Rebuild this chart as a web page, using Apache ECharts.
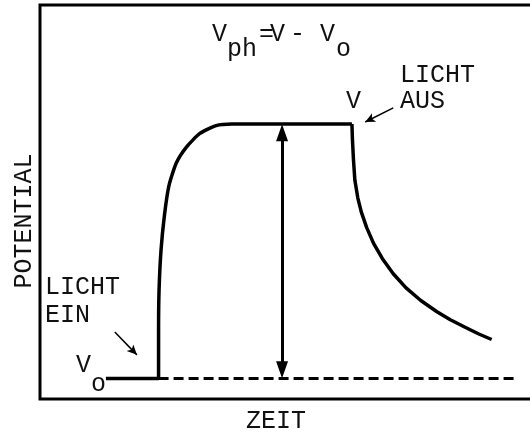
<!DOCTYPE html>
<html>
<head>
<meta charset="utf-8">
<script src="https://cdn.jsdelivr.net/npm/echarts@6/dist/echarts.min.js"></script>
<style>
  html, body { margin: 0; padding: 0; background: #fff; }
  #chart { width: 530px; height: 432px; }
</style>
</head>
<body>
<div id="chart"></div>
<script>
// Zeit (0..100) / Potential (0..100)
const riseCurve = [
  [13.4, 5.2], [24.1, 5.2], [24.1, 17.5], [24.2, 27.7], [24.6, 37.8], [25.3, 46.7],
  [26.2, 54.1], [27.7, 59.9], [29.8, 64.0], [32.5, 67.4], [35.8, 69.4], [39.0, 69.8],
  [63.4, 69.8]
];
const decayCurve = [
  [63.4, 69.8], [63.5, 66.0], [63.7, 61.0], [64.0, 55.5], [64.6, 51.0], [65.3, 47.5],
  [66.4, 43.5], [67.8, 39.5], [69.6, 35.6], [71.8, 31.8], [74.4, 28.2], [77.4, 25.0],
  [80.6, 22.2], [83.4, 20.1], [86.4, 18.2], [89.2, 16.5], [91.8, 15.1]
];
const darkLine = [[24.1, 5.2], [97.0, 5.2]];       // gestrichelte Linie V0
const vphArrow = [[49.2, 7.4], [49.2, 67.6]];       // Doppelpfeil Vph
const einArrow = [[15.2, 17.0], [19.7, 11.2]];      // LICHT EIN
const ausArrow = [[71.8, 73.9], [66.1, 70.3]];      // LICHT AUS

const FONT = '25px "Liberation Mono", "DejaVu Sans Mono", monospace';

function txt(text, x, y, extra) {
  return Object.assign({
    type: 'text', x: x, y: y,
    style: { text: text, font: FONT, fill: '#111', textAlign: 'left', textVerticalAlign: 'middle', align: 'left', verticalAlign: 'middle' }
  }, extra || {});
}

let chart = echarts.init(document.getElementById('chart'));
let option = {
  animation: false,
  grid: { left: 40, right: -2, top: 5, bottom: 33, outerBoundsMode: 'none', show: true, borderColor: '#000', borderWidth: 3, backgroundColor: 'transparent' },
  xAxis: { type: 'value', min: 0, max: 100, show: false },
  yAxis: { type: 'value', min: 0, max: 100, show: false },
  series: [
    {
      type: 'line', data: riseCurve, showSymbol: false, smooth: 0.2,
      lineStyle: { color: '#000', width: 3.5 }
    },
    {
      type: 'line', data: decayCurve, showSymbol: false, smooth: false,
      lineStyle: { color: '#000', width: 3.5, join: 'round' }
    },
    {
      type: 'line', data: darkLine, showSymbol: false,
      lineStyle: { color: '#000', width: 3, type: [10, 5] }
    },
    {
      type: 'line', data: [], silent: true,
      markLine: {
        silent: true, animation: false, label: { show: false },
        data: [
          [{ coord: vphArrow[0], symbol: 'triangle', symbolSize: [12, 17], lineStyle: { width: 3, type: 'solid', color: '#000' } },
           { coord: vphArrow[1], symbol: 'triangle', symbolSize: [12, 17] }],
          [{ coord: einArrow[0], symbol: 'none', lineStyle: { width: 1.5, type: 'solid', color: '#000' } },
           { coord: einArrow[1], symbol: 'arrow', symbolSize: [7, 10] }],
          [{ coord: ausArrow[0], symbol: 'none', lineStyle: { width: 1.5, type: 'solid', color: '#000' } },
           { coord: ausArrow[1], symbol: 'arrow', symbolSize: [7, 10] }]
        ]
      }
    }
  ],
  graphic: [
    // Formel
    txt('V', 212, 34),
    txt('ph', 227, 49),
    txt('=', 259, 34),
    txt('V', 270, 34),
    txt('-', 290, 34),
    txt('V', 320, 34),
    txt('o', 336, 49),
    // LICHT AUS
    txt('LICHT', 400, 75),
    txt('AUS', 400, 101),
    txt('V', 346, 101),
    // LICHT EIN
    txt('LICHT', 45, 287),
    txt('EIN', 45, 315),
    txt('V', 76, 365),
    txt('o', 91, 384),
    // Achsentitel
    txt('POTENTIAL', 24, 221, { rotation: Math.PI / 2, style: { text: 'POTENTIAL', font: FONT, fill: '#111', textAlign: 'center', textVerticalAlign: 'middle', align: 'center', verticalAlign: 'middle' } }),
    txt('ZEIT', 276, 421, { style: { text: 'ZEIT', font: FONT, fill: '#111', textAlign: 'center', textVerticalAlign: 'middle', align: 'center', verticalAlign: 'middle' } })
  ]
};
option && chart.setOption(option);
</script>
</body>
</html>
